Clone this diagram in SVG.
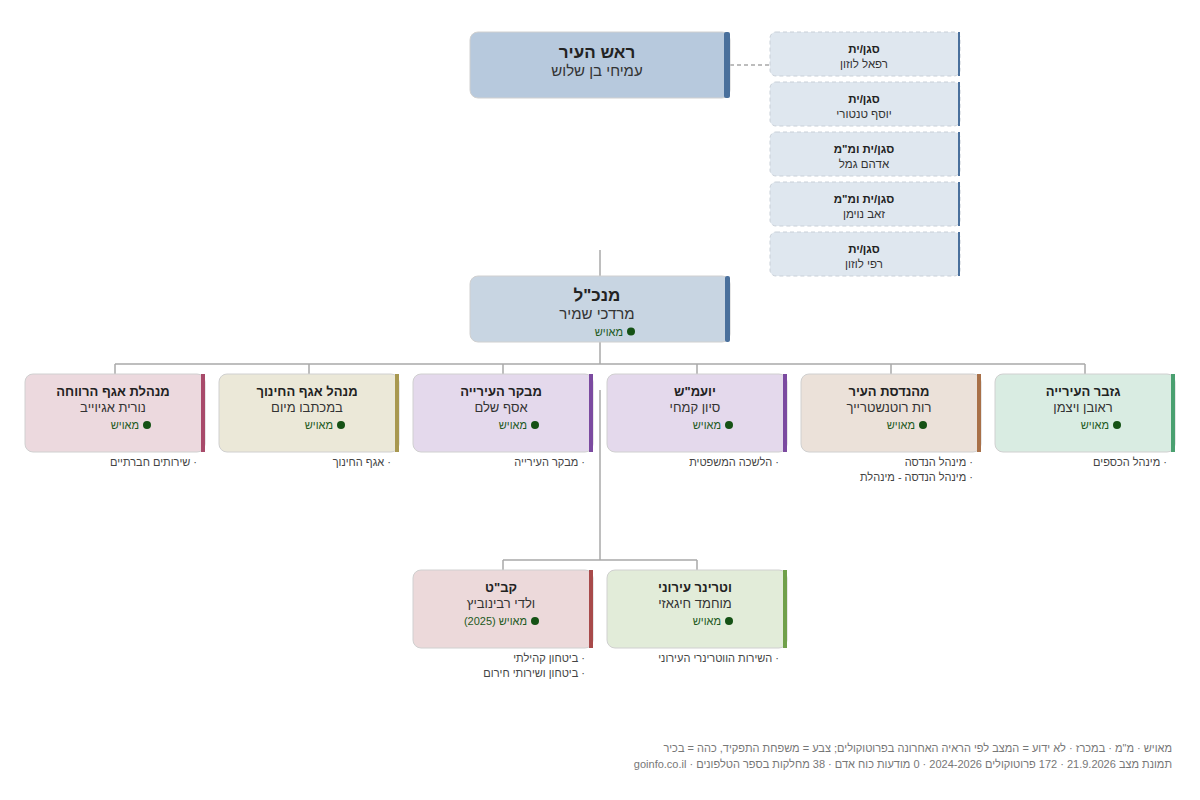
<svg xmlns="http://www.w3.org/2000/svg" width="1200" height="800" viewBox="0 0 1200 800">
<style>
text{font-family:"Liberation Sans","DejaVu Sans",sans-serif;direction:rtl;}
.box{stroke:#d0d0d0;stroke-width:1;}
.t{font-size:13px;font-weight:bold;fill:#222;text-anchor:middle;}
.n{font-size:13px;fill:#333;text-anchor:middle;}
.s{font-size:11px;fill:#1d5a1d;text-anchor:start;}
.dot{fill:#155215;}
.lbl{font-size:11px;fill:#444;text-anchor:start;}
.dt{font-size:11.5px;font-weight:bold;fill:#222;text-anchor:middle;}
.dn{font-size:11.5px;fill:#333;text-anchor:middle;}
.dep{fill:#dfe7ef;stroke:#c9d0d8;stroke-dasharray:4 3;stroke-width:1;}
.conn{stroke:#a8a8a8;stroke-width:1.5;fill:none;}
.foot{font-size:11px;fill:#777;text-anchor:start;}
</style>
<rect width="1200" height="800" fill="#fff"/>
<g id="connectors">
<line class="conn" x1="730" y1="65" x2="770" y2="65" stroke-dasharray="4 3"/>
<line class="conn" x1="600" y1="250" x2="600" y2="276"/>
<line class="conn" x1="600" y1="342" x2="600" y2="364"/>
<line class="conn" x1="115" y1="364" x2="1085" y2="364"/>
<line class="conn" x1="115" y1="364" x2="115" y2="374"/>
<line class="conn" x1="309" y1="364" x2="309" y2="374"/>
<line class="conn" x1="503" y1="364" x2="503" y2="374"/>
<line class="conn" x1="697" y1="364" x2="697" y2="374"/>
<line class="conn" x1="891" y1="364" x2="891" y2="374"/>
<line class="conn" x1="1085" y1="364" x2="1085" y2="374"/>
<line class="conn" x1="600" y1="390" x2="600" y2="560"/>
<line class="conn" x1="503" y1="560" x2="697" y2="560"/>
<line class="conn" x1="503" y1="560" x2="503" y2="570"/>
<line class="conn" x1="697" y1="560" x2="697" y2="570"/>
</g>
<g id="mayor">
<rect class="box" x="470" y="32" width="260" height="66" rx="8" fill="#b7c9dd"/>
<rect x="724" y="32" width="6" height="66" rx="2" fill="#4a709c"/>
<text class="t" x="597" y="58" style="font-size:17px">ראש העיר</text>
<text class="n" x="597" y="76" style="font-size:15px">עמיחי בן שלוש</text>
</g>
<g id="dep1"><rect class="dep" x="770" y="32" width="190" height="44" rx="6"/><rect x="958" y="32" width="2" height="44" fill="#4a709c"/><text class="dt" x="864" y="53">סגן/ית</text><text class="dn" x="864" y="68">רפאל לוזון</text></g>
<g id="dep2"><rect class="dep" x="770" y="82" width="190" height="44" rx="6"/><rect x="958" y="82" width="2" height="44" fill="#4a709c"/><text class="dt" x="864" y="103">סגן/ית</text><text class="dn" x="864" y="118">יוסף טנטורי</text></g>
<g id="dep3"><rect class="dep" x="770" y="132" width="190" height="44" rx="6"/><rect x="958" y="132" width="2" height="44" fill="#4a709c"/><text class="dt" x="864" y="153">סגן/ית ומ"מ</text><text class="dn" x="864" y="168">אדהם גמל</text></g>
<g id="dep4"><rect class="dep" x="770" y="182" width="190" height="44" rx="6"/><rect x="958" y="182" width="2" height="44" fill="#4a709c"/><text class="dt" x="864" y="203">סגן/ית ומ"מ</text><text class="dn" x="864" y="218">זאב נוימן</text></g>
<g id="dep5"><rect class="dep" x="770" y="232" width="190" height="44" rx="6"/><rect x="958" y="232" width="2" height="44" fill="#4a709c"/><text class="dt" x="864" y="253">סגן/ית</text><text class="dn" x="864" y="268">רפי לוזון</text></g>
<g id="ceo">
<rect class="box" x="470" y="276" width="260" height="66" rx="8" fill="#c8d5e2"/>
<rect x="725" y="276" width="5" height="66" rx="2" fill="#4a709c"/>
<text class="t" x="597" y="301" style="font-size:17px">מנכ"ל</text>
<text class="n" x="597" y="319" style="font-size:15px">מרדכי שמיר</text>
<circle class="dot" cx="631" cy="331.5" r="4"/><text class="s" x="623" y="335.5">מאויש</text>
</g>
<g id="welfare">
<rect class="box" x="25" y="374" width="180" height="78" rx="8" fill="#ecd9de"/>
<rect x="201" y="374" width="4" height="78" fill="#a84a6a"/>
<text class="t" x="113" y="396">מנהלת אגף הרווחה</text>
<text class="n" x="113" y="412">נורית אגיוייב</text>
<circle class="dot" cx="147" cy="425" r="4"/><text class="s" x="139" y="429">מאויש</text>
<text class="lbl" x="197" y="466">· שירותים חברתיים</text>
</g>
<g id="education">
<rect class="box" x="219" y="374" width="180" height="78" rx="8" fill="#ebe8d8"/>
<rect x="395" y="374" width="4" height="78" fill="#a89850"/>
<text class="t" x="307" y="396">מנהל אגף החינוך</text>
<text class="n" x="307" y="412">במכתבו מיום</text>
<circle class="dot" cx="341" cy="425" r="4"/><text class="s" x="333" y="429">מאויש</text>
<text class="lbl" x="391" y="466">· אגף החינוך</text>
</g>
<g id="auditor">
<rect class="box" x="413" y="374" width="180" height="78" rx="8" fill="#e4d9ec"/>
<rect x="589" y="374" width="4" height="78" fill="#7b4aa0"/>
<text class="t" x="501" y="396">מבקר העירייה</text>
<text class="n" x="501" y="412">אסף שלם</text>
<circle class="dot" cx="535" cy="425" r="4"/><text class="s" x="527" y="429">מאויש</text>
<text class="lbl" x="585" y="466">· מבקר העירייה</text>
</g>
<g id="legal">
<rect class="box" x="607" y="374" width="180" height="78" rx="8" fill="#e4d9ec"/>
<rect x="783" y="374" width="4" height="78" fill="#7b4aa0"/>
<text class="t" x="695" y="396">יועמ"ש</text>
<text class="n" x="695" y="412">סיון קמחי</text>
<circle class="dot" cx="729" cy="425" r="4"/><text class="s" x="721" y="429">מאויש</text>
<text class="lbl" x="779" y="466">· הלשכה המשפטית</text>
</g>
<g id="engineer">
<rect class="box" x="801" y="374" width="180" height="78" rx="8" fill="#ebe1d9"/>
<rect x="977" y="374" width="4" height="78" fill="#a87048"/>
<text class="t" x="889" y="396">מהנדסת העיר</text>
<text class="n" x="889" y="412">רות רוטנשטרייך</text>
<circle class="dot" cx="923" cy="425" r="4"/><text class="s" x="915" y="429">מאויש</text>
<text class="lbl" x="973" y="466">· מינהל הנדסה</text>
<text class="lbl" x="973" y="481">· מינהל הנדסה - מינהלת</text>
</g>
<g id="treasurer">
<rect class="box" x="995" y="374" width="180" height="78" rx="8" fill="#d9ece2"/>
<rect x="1171" y="374" width="4" height="78" fill="#4aa070"/>
<text class="t" x="1083" y="396">גזבר העירייה</text>
<text class="n" x="1083" y="412">ראובן ויצמן</text>
<circle class="dot" cx="1117" cy="425" r="4"/><text class="s" x="1109" y="429">מאויש</text>
<text class="lbl" x="1167" y="466">· מינהל הכספים</text>
</g>
<g id="kabat">
<rect class="box" x="413" y="570" width="180" height="78" rx="8" fill="#ecd9da"/>
<rect x="589" y="570" width="4" height="78" fill="#a84a4a"/>
<text class="t" x="501" y="592">קב"ט</text>
<text class="n" x="501" y="608">ולדי רבינוביץ</text>
<circle class="dot" cx="535" cy="621" r="4"/><text class="s" x="527" y="625">מאויש (2025)</text>
<text class="lbl" x="585" y="662">· ביטחון קהילתי</text>
<text class="lbl" x="585" y="677">· ביטחון ושירותי חירום</text>
</g>
<g id="vet">
<rect class="box" x="607" y="570" width="180" height="78" rx="8" fill="#e2ecd9"/>
<rect x="783" y="570" width="4" height="78" fill="#70a04a"/>
<text class="t" x="695" y="592">וטרינר עירוני</text>
<text class="n" x="695" y="608">מוחמד חיגאזי</text>
<circle class="dot" cx="729" cy="621" r="4"/><text class="s" x="721" y="625">מאויש</text>
<text class="lbl" x="779" y="662">· השירות הווטרינרי העירוני</text>
</g>
<g id="footer">
<text class="foot" x="1172" y="752">מאויש · מ"מ · במכרז · לא ידוע = המצב לפי הראיה האחרונה בפרוטוקולים; צבע = משפחת התפקיד, כהה = בכיר</text>
<text class="foot" x="1172" y="768">תמונת מצב 21.9.2026 · 172 פרוטוקולים 2024-2026 · 0 מודעות כוח אדם · 38 מחלקות בספר הטלפונים · goinfo.co.il</text>
</g>
</svg>
